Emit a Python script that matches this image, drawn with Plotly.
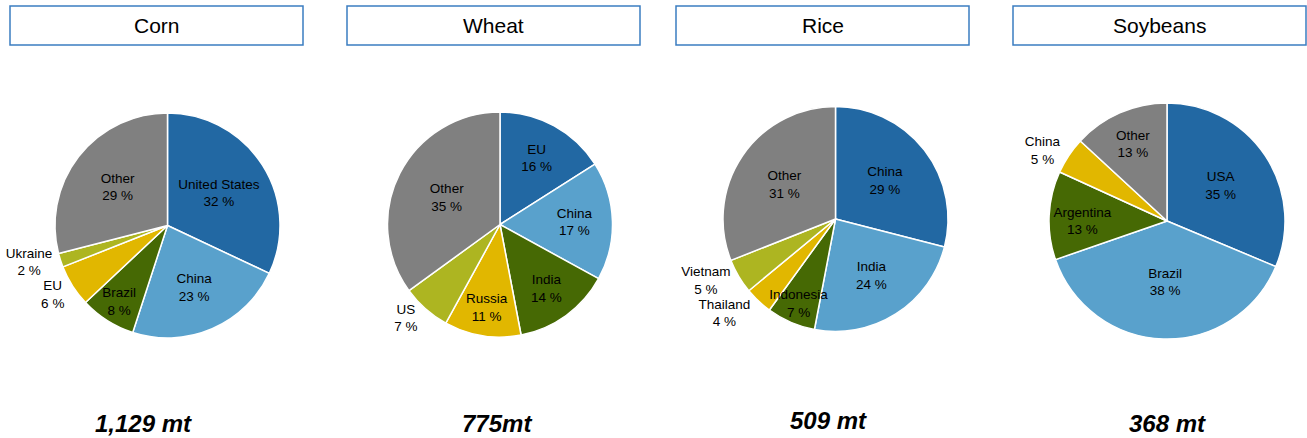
import plotly.graph_objects as go

# ---- data ----
titles = ["Corn", "Wheat", "Rice", "Soybeans"]
totals = ["1,129 mt", "775mt", "509 mt", "368 mt"]

corn_labels = ["United States", "China", "Brazil", "EU", "Ukraine", "Other"]
corn_values = [32, 23, 8, 6, 2, 29]
corn_pct = ["32", "23", "8", "6", "2", "29"]

wheat_labels = ["EU", "China", "India", "Russia", "US", "Other"]
wheat_values = [16, 17, 14, 11, 7, 35]
wheat_pct = ["16", "17", "14", "11", "7", "35"]

rice_labels = ["China", "India", "Indonesia", "Thailand", "Vietnam", "Other"]
rice_values = [29, 24, 7, 4, 5, 31]
rice_pct = ["29", "24", "7", "4", "5", "31"]

soy_labels = ["USA", "Brazil", "Argentina", "China", "Other"]
soy_values = [31, 38, 12, 5, 13]          # wedge sizes as drawn
soy_pct = ["35", "38", "13", "5", "13"]   # percentages as printed

# ---- style ----
W, H = 1307, 438
DARK_BLUE = "#2268a3"
LIGHT_BLUE = "#59a1cc"
DARK_GREEN = "#466904"
GOLD = "#e1b700"
OLIVE = "#adb521"
GRAY = "#808080"

pies = [
    dict(labels=corn_labels, values=corn_values, pct=corn_pct,
         colors=[DARK_BLUE, LIGHT_BLUE, DARK_GREEN, GOLD, OLIVE, GRAY],
         outside={"EU", "Ukraine"}, cx=167.5, cy=225.5, r=112.5),
    dict(labels=wheat_labels, values=wheat_values, pct=wheat_pct,
         colors=[DARK_BLUE, LIGHT_BLUE, DARK_GREEN, GOLD, OLIVE, GRAY],
         outside={"US"}, cx=500, cy=224.5, r=112.5),
    dict(labels=rice_labels, values=rice_values, pct=rice_pct,
         colors=[DARK_BLUE, LIGHT_BLUE, DARK_GREEN, GOLD, OLIVE, GRAY],
         outside={"Thailand", "Vietnam"}, cx=835.5, cy=219, r=112.5),
    dict(labels=soy_labels, values=soy_values, pct=soy_pct,
         colors=[DARK_BLUE, LIGHT_BLUE, DARK_GREEN, GOLD, GRAY],
         outside={"China"}, cx=1167, cy=221, r=118),
]

boxes = [(10, 303), (347, 640), (676, 969), (1013, 1306)]
total_x = [143, 497, 828, 1167]
total_y = [423, 423, 420, 423]

FONT = "Liberation Sans, Arial, sans-serif"

fig = go.Figure()
for p in pies:
    x0 = (p["cx"] - p["r"]) / W
    x1 = (p["cx"] + p["r"]) / W
    y0 = 1 - (p["cy"] + p["r"]) / H
    y1 = 1 - (p["cy"] - p["r"]) / H
    fig.add_trace(go.Pie(
        labels=p["labels"], values=p["values"], text=p["pct"],
        sort=False, direction="clockwise", rotation=0,
        marker=dict(colors=p["colors"], line=dict(color="white", width=1.5)),
        texttemplate="%{label}<br>%{text} %",
        textposition=["outside" if l in p["outside"] else "inside" for l in p["labels"]],
        insidetextorientation="horizontal",
        textfont=dict(family=FONT, size=13.5, color="black"),
        domain=dict(x=[x0, x1], y=[y0, y1]),
        showlegend=False, hoverinfo="label+text",
    ))

shapes = []
annotations = []
for (bx0, bx1), t in zip(boxes, titles):
    shapes.append(dict(type="rect", xref="paper", yref="paper",
                       x0=bx0 / W, x1=bx1 / W, y0=1 - 45 / H, y1=1 - 6 / H,
                       line=dict(color="#3b7dc1", width=1.5), fillcolor="white"))
    annotations.append(dict(text=t, xref="paper", yref="paper",
                            x=(bx0 + bx1) / 2 / W, y=1 - 26 / H,
                            xanchor="center", yanchor="middle", showarrow=False,
                            font=dict(family=FONT, size=21, color="black")))
for t, x, y in zip(totals, total_x, total_y):
    annotations.append(dict(text=f"<b><i>{t}</i></b>", xref="paper", yref="paper",
                            x=x / W, y=1 - y / H, xanchor="center", yanchor="middle",
                            showarrow=False,
                            font=dict(family=FONT, size=24, color="black")))

fig.update_layout(
    width=W, height=H, margin=dict(l=0, r=0, t=0, b=0),
    paper_bgcolor="white", plot_bgcolor="white",
    shapes=shapes, annotations=annotations,
    uniformtext=dict(minsize=13.5, mode="show"),
)

POST = """
document.body.style.margin='0';
var st=document.createElement('style');
st.textContent='path.textline{display:none !important;}';
document.head.appendChild(st);
document.querySelectorAll('g.trace').forEach(function(t){
  t.querySelectorAll('g.slicetext').forEach(function(s){ t.appendChild(s); });
});
"""
fig.write_html("out.html", post_script=POST, config={"displayModeBar": False})
